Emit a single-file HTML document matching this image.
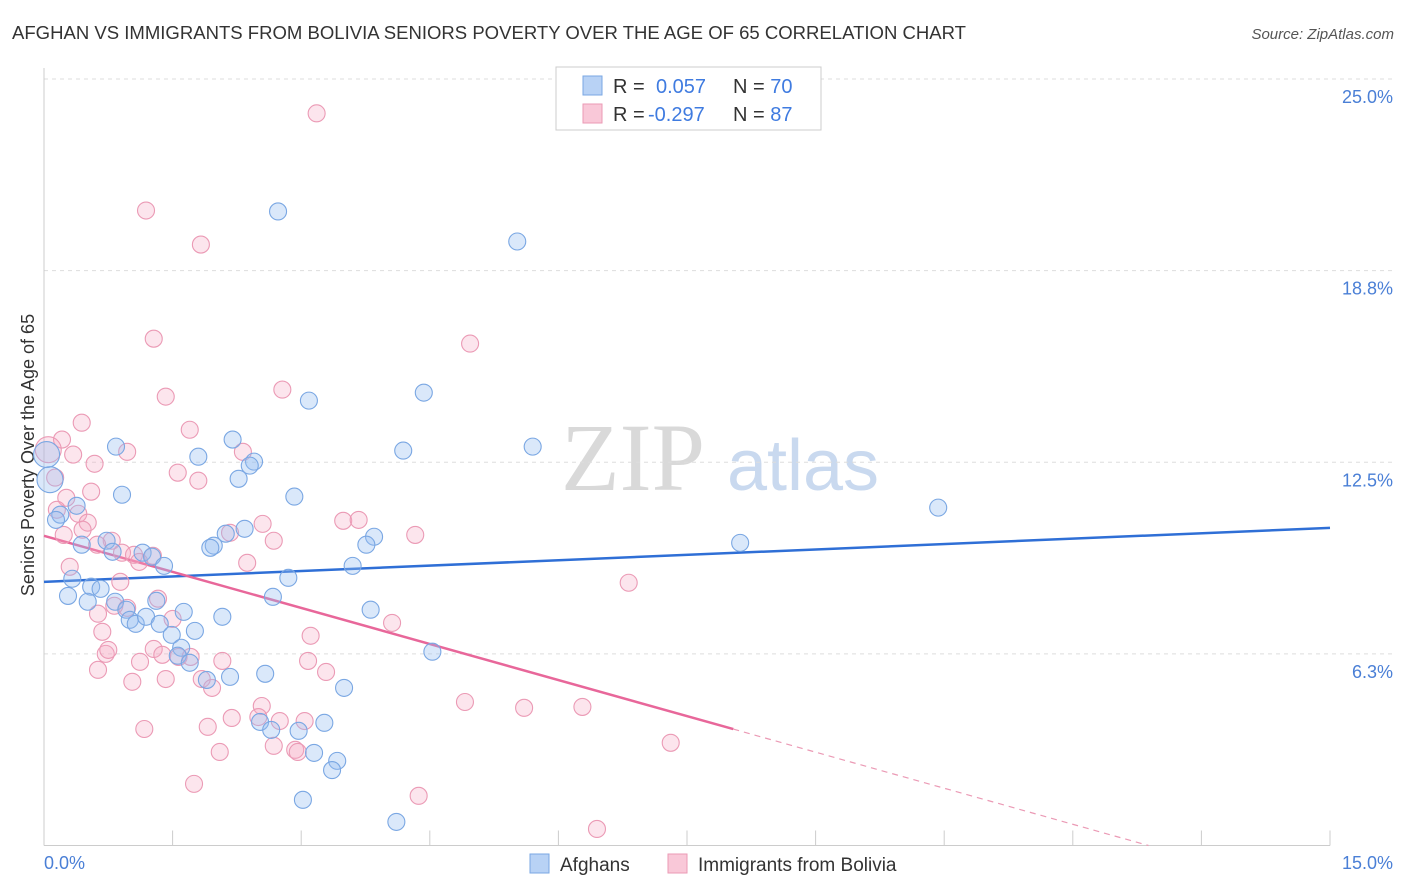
<!DOCTYPE html>
<html><head><meta charset="utf-8">
<style>
body{margin:0;background:#fff;font-family:"Liberation Sans",sans-serif;}
#wrap{position:relative;width:1406px;height:892px;overflow:hidden;}
</style></head>
<body>
<div id="wrap">
<svg id="chart" width="1406" height="892" xmlns="http://www.w3.org/2000/svg">
<text x="12" y="39" font-size="18" fill="#333" textLength="954" lengthAdjust="spacingAndGlyphs">AFGHAN VS IMMIGRANTS FROM BOLIVIA SENIORS POVERTY OVER THE AGE OF 65 CORRELATION CHART</text>
<text x="1394" y="39" font-size="15" fill="#555" font-style="italic" text-anchor="end">Source: ZipAtlas.com</text>
<text x="633" y="490" font-size="96" fill="#d9d9d9" font-family="Liberation Serif,serif" text-anchor="middle">ZIP</text>
<text x="803" y="490" font-size="72" fill="#c9d9ef" text-anchor="middle">atlas</text>
<text transform="translate(34,455) rotate(-90)" font-size="18" fill="#333" text-anchor="middle">Seniors Poverty Over the Age of 65</text>
<g id="grid"></g><g id="axes"></g><g id="trend"></g><g id="pts"></g>
<g>
<rect x="556" y="67" width="265" height="63" fill="#fff" stroke="#ccc"/>
<rect x="583" y="76" width="19" height="19" fill="#b8d2f5" stroke="#7aa7e3"/>
<rect x="583" y="104" width="19" height="19" fill="#f9c8d8" stroke="#eb9ab5"/>
<text x="613" y="93" font-size="20" fill="#333">R =</text>
<text x="656" y="93" font-size="20" fill="#3f7be0">0.057</text>
<text x="733" y="93" font-size="20" fill="#333">N = <tspan fill="#3f7be0">70</tspan></text>
<text x="613" y="121" font-size="20" fill="#333">R =</text>
<text x="648" y="121" font-size="20" fill="#3f7be0">-0.297</text>
<text x="733" y="121" font-size="20" fill="#333">N = <tspan fill="#3f7be0">87</tspan></text>
</g>
<g>
<rect x="530" y="854" width="19" height="19" fill="#b8d2f5" stroke="#7aa7e3"/>
<text x="560" y="871" font-size="19" fill="#333">Afghans</text>
<rect x="668" y="854" width="19" height="19" fill="#f9c8d8" stroke="#eb9ab5"/>
<text x="698" y="871" font-size="19" fill="#333">Immigrants from Bolivia</text>
</g>
</svg>
</div>
<script>
const yTicks=[6.25,12.5,18.75,25];
const yTickLabels=["6.3%","12.5%","18.8%","25.0%"];
const xTickCount=10;
const blueX=[2.73,5.52,4.43,3.09,5.70,4.19,0.84,2.20,1.80,2.45,2.40,2.27,0.91,2.92,10.43,0.38,0.19,0.14,2.34,2.12,3.85,3.76,1.98,1.94,0.73,0.44,8.12,0.80,1.15,1.26,1.40,3.60,0.33,2.85,0.55,0.66,0.28,2.67,1.31,0.51,0.83,0.96,3.81,1.63,2.08,1.00,1.07,1.19,1.35,1.49,1.76,1.60,1.56,1.70,4.53,2.58,2.17,1.90,3.50,2.52,3.27,2.65,2.97,3.15,3.42,3.36,3.02,4.11,0.03,0.07];
const blueY=[20.68,19.70,14.77,14.51,13.01,12.88,13.01,13.24,12.68,12.52,12.39,11.96,11.44,11.38,11.02,11.08,10.79,10.62,10.33,10.17,10.07,9.81,9.78,9.71,9.94,9.81,9.87,9.58,9.55,9.42,9.12,9.12,8.70,8.73,8.44,8.37,8.14,8.11,7.98,7.95,7.95,7.69,7.69,7.62,7.46,7.36,7.23,7.46,7.23,6.87,7.00,6.45,6.19,5.96,6.32,5.60,5.50,5.40,5.14,4.03,4.00,3.77,3.74,3.02,2.76,2.46,1.49,0.77,12.75,11.93];
const pinkX=[3.18,1.19,1.83,1.28,4.97,2.78,1.42,0.44,1.70,0.21,0.05,0.34,0.97,2.32,0.59,1.56,1.80,0.55,0.26,0.15,0.40,0.51,0.45,0.23,2.55,3.49,3.67,2.17,4.33,2.68,0.79,0.62,0.91,1.05,1.27,1.11,2.37,0.30,0.89,6.82,1.33,0.82,0.97,1.50,0.63,4.06,0.68,3.11,1.28,1.38,0.72,0.75,1.57,1.71,1.12,2.08,3.08,0.63,3.29,1.42,1.03,1.84,1.96,4.91,5.60,6.28,2.54,2.50,2.19,2.75,3.04,1.17,1.91,7.31,2.68,2.93,2.96,2.05,1.75,4.37,6.45,0.13];
const pinkY=[23.88,20.71,19.60,16.53,16.37,14.87,14.64,13.79,13.56,13.24,12.91,12.75,12.84,12.84,12.45,12.16,11.90,11.54,11.34,10.95,10.82,10.53,10.30,10.13,10.49,10.59,10.62,10.20,10.13,9.94,9.94,9.81,9.55,9.48,9.45,9.25,9.22,9.09,8.60,8.57,8.05,7.82,7.75,7.39,7.56,7.26,6.97,6.84,6.41,6.22,6.25,6.38,6.15,6.15,5.99,6.02,6.02,5.73,5.66,5.43,5.34,5.43,5.14,4.68,4.49,4.52,4.55,4.19,4.16,4.06,4.06,3.80,3.87,3.35,3.25,3.12,3.05,3.05,2.01,1.62,0.54,12.00];
const blueTrend=[8.60,10.36];      // y at x=0 and x=15
const pinkTrend=[10.10,-0.784];    // intercept, slope
const pinkSolidEnd=8.04;

const X0=44,X1=1330,YB=845.5,YT=79;
const xs=v=>X0+(X1-X0)*v/15;
const ys=v=>YB-(YB-YT)*v/25;
const NS="http://www.w3.org/2000/svg";
function mk(tag,attrs,parent){const e=document.createElementNS(NS,tag);for(const k in attrs)e.setAttribute(k,attrs[k]);parent.appendChild(e);return e;}
const grid=document.getElementById('grid'),axes=document.getElementById('axes'),trend=document.getElementById('trend'),pts=document.getElementById('pts');
yTicks.forEach((t,i)=>{
 const l=mk('line',{x1:X0,x2:1394,y1:ys(t),y2:ys(t),stroke:'#ddd','stroke-dasharray':'4,4'},grid);
 
 
 const tx=mk('text',{x:1393,y:ys(t)+24,'font-size':18,fill:'#4a7fd6','text-anchor':'end'},grid);
 tx.textContent=yTickLabels[i];
 
 
});
const xa=mk('line',{x1:X0,x2:X1,y1:YB,y2:YB,stroke:'#ccc'},axes);


const ya=mk('line',{x1:X0,x2:X0,y1:68,y2:YB,stroke:'#ccc'},axes);


for(let i=0;i<=xTickCount;i++){
 const tk=mk('line',{x1:xs(i*1.5),x2:xs(i*1.5),y1:YB-15,y2:YB,stroke:'#ccc'},axes);
 
 
}
const xl0=mk('text',{x:44,y:869,'font-size':18,fill:'#4a7fd6'},axes);xl0.textContent='0.0%';


const xl1=mk('text',{x:1393,y:869,'font-size':18,fill:'#4a7fd6','text-anchor':'end'},axes);xl1.textContent='15.0%';



function dots(X,Y,fill,stroke,name){
 X.forEach((x,i)=>{
  const big=(x<0.1&&Y[i]>11.5);
  const c=mk('circle',{cx:xs(x),cy:ys(Y[i]),r:big?13:8.5,fill:fill,stroke:stroke,'stroke-width':1.1},pts);
  
  
 });
}
dots(pinkX,pinkY,'rgba(245,170,195,0.3)','#eb9ab5','bolivia-point');
dots(blueX,blueY,'rgba(150,190,240,0.35)','#7aa7e3','afghan-point');

const bl=mk('line',{x1:xs(0),y1:ys(blueTrend[0]),x2:xs(15),y2:ys(blueTrend[1]),stroke:'#2f6fd6','stroke-width':2.5},trend);


const pe=pinkTrend[0]+pinkTrend[1]*pinkSolidEnd;
const pl=mk('line',{x1:xs(0),y1:ys(pinkTrend[0]),x2:xs(pinkSolidEnd),y2:ys(pe),stroke:'#e8679a','stroke-width':2.5},trend);


const zx=-pinkTrend[0]/pinkTrend[1];
const pd=mk('line',{x1:xs(pinkSolidEnd),y1:ys(pe),x2:xs(zx),y2:ys(0),stroke:'#eb9ab5','stroke-width':1.2,'stroke-dasharray':'6,5'},trend);


</script>
</body></html>
